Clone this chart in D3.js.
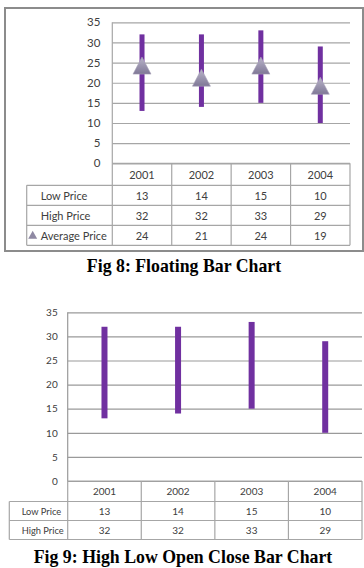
<!DOCTYPE html>
<html><head><meta charset="utf-8">
<script src="https://cdn.jsdelivr.net/npm/d3@7"></script>
<style>
html,body{margin:0;padding:0;background:#fff;}
svg{display:block;}
</style></head>
<body>
<script>
// ---- data ----
const years = ["2001","2002","2003","2004"];
const lowPrice = [13,14,15,10];
const highPrice = [32,32,33,29];
const avgPrice = [24,21,24,19];
const yTicks = [0,5,10,15,20,25,30,35];
const caption1 = "Fig 8: Floating Bar Chart";
const caption2 = "Fig 9: High Low Open Close Bar Chart";

const W = 364, H = 568;
const svg = d3.select("body").append("svg").attr("width", W).attr("height", H);

const defs = svg.append("defs");
const grad = defs.append("linearGradient").attr("id","triGrad").attr("x1",0).attr("y1",0).attr("x2",0).attr("y2",1);
grad.append("stop").attr("offset","0%").attr("stop-color","#b9b4c9");
grad.append("stop").attr("offset","100%").attr("stop-color","#7f7896");

const FONT = "Lato, 'Open Sans', sans-serif";
const BAR = "#7030a0";

function drawChart(o) {
  const g = svg.append("g");
  const x = d3.scaleBand().domain(years).range([o.x0, o.x1]);
  const y = d3.scaleLinear().domain([0,35]).range([o.y0, o.yTop]);

  // gridlines + tick labels
  const ax = g.append("g").attr("transform", `translate(${o.x0},0)`)
    .call(d3.axisLeft(y).tickValues(yTicks).tickSize(-(o.x1 - o.x0)).tickPadding(o.tickPad).tickFormat(d3.format("d")));
  ax.select(".domain").remove();
  ax.selectAll(".tick line").attr("stroke", o.gridColor).attr("stroke-width", 1.2);
  ax.selectAll(".tick text").attr("font-family", FONT).attr("font-size", o.tickFont).attr("fill", "#404040");
  // vertical axis line
  g.append("line").attr("x1", o.x0).attr("x2", o.x0).attr("y1", o.yTop).attr("y2", o.y0)
    .attr("stroke", o.gridColor).attr("stroke-width", 1.2);

  // bars
  g.selectAll("rect.bar").data(years).enter().append("rect")
    .attr("x", (d) => x(d) + x.bandwidth()/2 - o.barW/2)
    .attr("width", o.barW)
    .attr("y", (d,i) => y(highPrice[i]))
    .attr("height", (d,i) => y(lowPrice[i]) - y(highPrice[i]))
    .attr("fill", BAR);

  // triangles
  if (o.avg) {
    const tw = 18, th = 17;
    g.selectAll("path.tri").data(years).enter().append("path")
      .attr("d", (d,i) => {
        const cx = x(d) + x.bandwidth()/2, cy = y(avgPrice[i]);
        return `M${cx},${cy - th/2 - 1} L${cx + tw/2},${cy + th/2 - 1} L${cx - tw/2},${cy + th/2 - 1} Z`;
      })
      .attr("fill", "url(#triGrad)")
      .attr("stroke", "#a7a2b8").attr("stroke-width", 0.6);
  }

  // data table
  const rows = o.rows;
  const tc = o.tableColor;
  const headerBottom = o.y0 + o.headerH;
  g.append("line").attr("x1", o.x0).attr("x2", o.x1).attr("y1", o.y0).attr("y2", o.y0).attr("stroke", tc).attr("stroke-width", 1.2);
  const tableBottom = headerBottom + rows.length * o.rowH;
  for (let r = 0; r <= rows.length; r++) {
    const yy = headerBottom + r * o.rowH;
    g.append("line").attr("x1", o.labelX0).attr("x2", o.x1).attr("y1", yy).attr("y2", yy).attr("stroke", tc).attr("stroke-width", 1.2);
  }
  years.forEach((d) => {
    g.append("line").attr("x1", x(d)).attr("x2", x(d)).attr("y1", o.y0).attr("y2", tableBottom).attr("stroke", tc).attr("stroke-width", 1.2);
  });
  g.append("line").attr("x1", o.x1).attr("x2", o.x1).attr("y1", o.y0).attr("y2", tableBottom).attr("stroke", tc).attr("stroke-width", 1.2);
  g.append("line").attr("x1", o.labelX0).attr("x2", o.labelX0).attr("y1", headerBottom).attr("y2", tableBottom).attr("stroke", tc).attr("stroke-width", 1.2);

  g.selectAll("text.hdr").data(years).enter().append("text")
    .attr("x", (d) => x(d) + x.bandwidth()/2).attr("y", o.y0 + o.headerH/2)
    .attr("text-anchor","middle").attr("dominant-baseline","central")
    .attr("font-family", FONT).attr("font-size", o.tableFont).attr("fill","#404040").text((d) => d);

  rows.forEach((row, r) => {
    const cy = headerBottom + r * o.rowH + o.rowH/2;
    if (row.marker) {
      const mx = o.labelTextX - 8, ms = 8;
      g.append("path").attr("d", `M${mx},${cy - ms/2 - 0.5} L${mx + ms/2 + 0.5},${cy + ms/2 - 0.5} L${mx - ms/2 - 0.5},${cy + ms/2 - 0.5} Z`)
        .attr("fill", "#8f89a3");
    }
    g.append("text").attr("x", o.labelTextX).attr("y", cy)
      .attr("dominant-baseline","central").attr("font-family", FONT).attr("font-size", o.labelFont || o.tableFont)
      .attr("fill","#404040").text(row.label);
    g.selectAll(null).data(years).enter().append("text")
      .attr("x", (d) => x(d) + x.bandwidth()/2).attr("y", cy)
      .attr("text-anchor","middle").attr("dominant-baseline","central")
      .attr("font-family", FONT).attr("font-size", o.tableFont).attr("fill","#404040")
      .text((d,i) => row.values[i]);
  });

  svg.append("text").attr("x", o.capX).attr("y", o.capY)
    .attr("text-anchor","middle").attr("dominant-baseline","central")
    .attr("font-family","'Liberation Serif', 'Times New Roman', serif").attr("font-weight","bold")
    .attr("font-size", o.capFont).attr("fill","#000").text(o.caption);
}

// chart 1 frame
svg.append("rect").attr("x", 5).attr("y", 8).attr("width", 358).attr("height", 243)
  .attr("fill","none").attr("stroke","#8c8c8c").attr("stroke-width",2);

drawChart({
  x0: 112.3, x1: 350, yTop: 22.3, y0: 163.3, barW: 5, avg: true,
  gridColor: "#a6a6a6", tableColor: "#a6a6a6", tickPad: 12, tickFont: "11.5px",
  headerH: 22, rowH: 20, labelX0: 26.7, labelTextX: 40.7, tableFont: "11px",
  rows: [
    {label: "Low Price", values: lowPrice},
    {label: "High Price", values: highPrice},
    {label: "Average Price", values: avgPrice, marker: true}
  ],
  caption: caption1, capX: 184, capY: 266, capFont: "17.8px"
});

drawChart({
  x0: 67.7, x1: 362, yTop: 312.3, y0: 481, barW: 6, avg: false,
  gridColor: "#9a9a9a", tableColor: "#a6a6a6", tickPad: 10, tickFont: "10px",
  headerH: 20.5, rowH: 19, labelX0: 9.3, labelTextX: 21.7, tableFont: "10px", labelFont: "9.3px",
  rows: [
    {label: "Low Price", values: lowPrice},
    {label: "High Price", values: highPrice}
  ],
  caption: caption2, capX: 183, capY: 557, capFont: "17.8px"
});
</script>
</body></html>
